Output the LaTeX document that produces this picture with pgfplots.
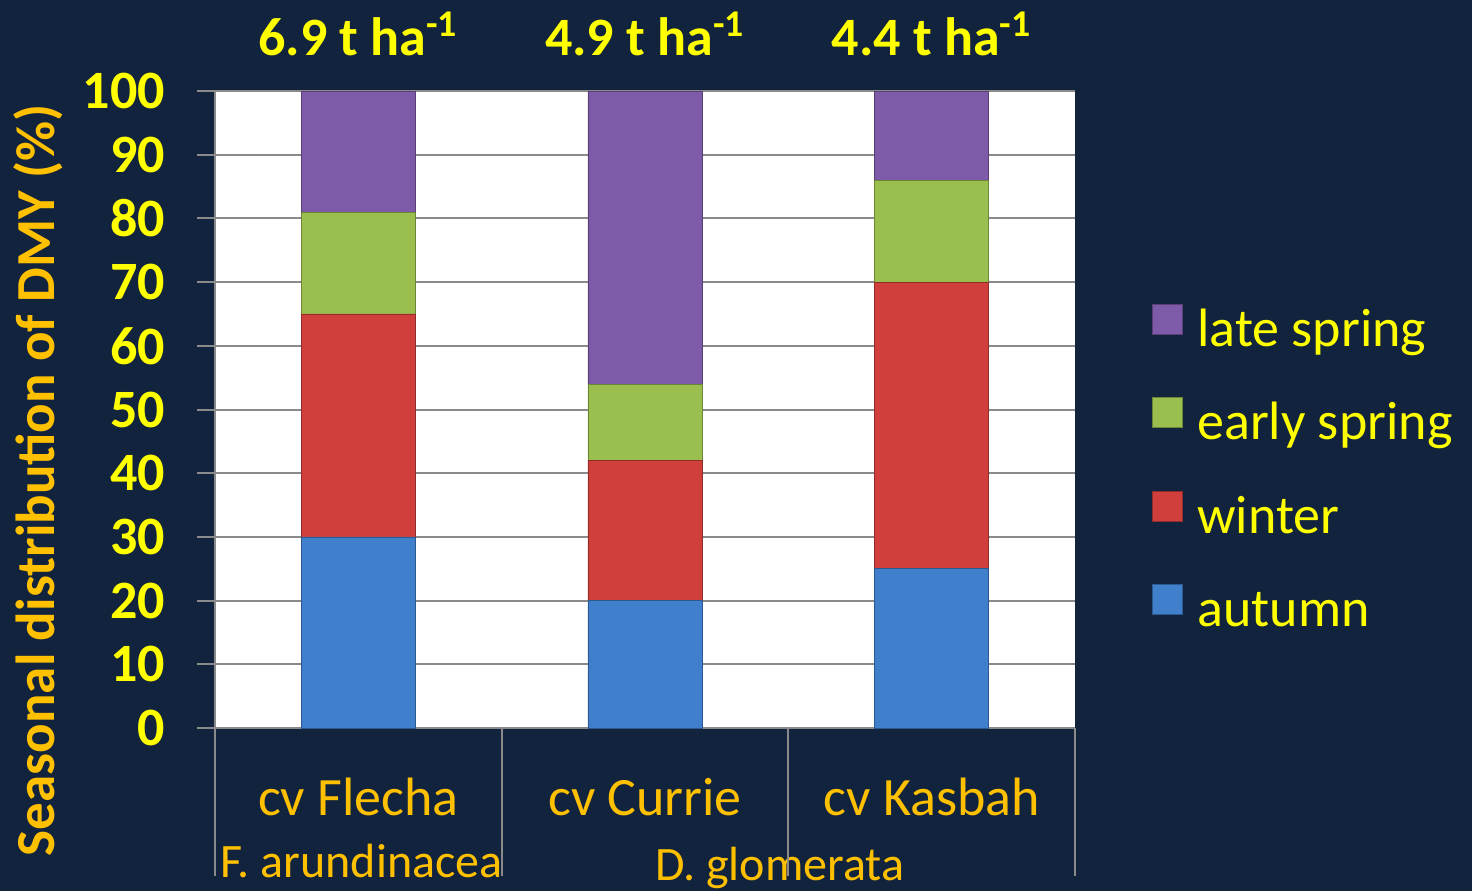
\documentclass[border=0pt]{standalone}
\usepackage{fontspec}
\setmainfont{Carlito}
\usepackage{pgfplots}
\pgfplotsset{compat=1.18}
\definecolor{bg}{HTML}{12233E}
\definecolor{ylw}{HTML}{FFFF00}
\definecolor{org}{HTML}{FFC000}
\definecolor{gridgray}{HTML}{8A8A8A}
\definecolor{cAut}{HTML}{3F7FCC}
\definecolor{cWin}{HTML}{D13F3D}
\definecolor{cEar}{HTML}{9BBF4E}
\definecolor{cLat}{HTML}{7E5BA8}
\newcommand\bigfont{\fontsize{27}{32}\selectfont}
\begin{document}
\begin{tikzpicture}
\fill[bg] (-107.5pt,-81.5pt) rectangle (628.5pt,364pt);
\begin{axis}[
  at={(0pt,0pt)}, anchor=south west,
  scale only axis, width=430pt, height=318.5pt,
  ybar stacked, bar width=57pt,
  xmin=-0.5, xmax=2.5, ymin=0, ymax=100,
  xtick={0,1,2}, xticklabels={cv Flecha,cv Currie,cv Kasbah},
  ytick={0,10,...,100},
  axis background/.style={fill=white},
  ymajorgrids, grid style={draw=gridgray, line width=1pt},
  axis x line*=bottom, axis y line*=left,
  axis line style={draw=gridgray, line width=1pt, -},
  tick align=outside, major tick length=9pt,
  x tick style={draw=none},
  y tick style={draw=gridgray, line width=1pt},
  /pgf/number format/assume math mode=true,
  yticklabel style={font=\bigfont\bfseries, text=ylw, xshift=-12.5pt},
  xticklabel style={font=\bigfont, text=org, anchor=base, yshift=-34.5pt},
  ylabel={Seasonal distribution of DMY (\%)},
  ylabel style={font=\fontsize{27.5}{32}\selectfont\bfseries, text=org, at={(axis description cs:-0.206,0.389)}, anchor=center},
  clip=false,
  legend style={at={(rel axis cs:1.0895,0.666)}, anchor=north west, draw=none, fill=none, inner sep=0pt,
    font=\bigfont, text=ylw, row sep=19.4pt, column sep=7pt,
    nodes={inner sep=0pt, text height=18pt, text depth=6pt}},
  legend cell align=left,
  reverse legend,
  legend image code/.code={\draw[#1, line width=0.5pt] (0pt,0pt) rectangle (15pt,15pt);},
]
\addplot[fill=cAut, draw=cAut!70!black] coordinates {(0,30) (1,20) (2,25)};
\addlegendentry{autumn}
\addplot[fill=cWin, draw=cWin!70!black] coordinates {(0,35) (1,22) (2,45)};
\addlegendentry{winter}
\addplot[fill=cEar, draw=cEar!70!black] coordinates {(0,16) (1,12) (2,16)};
\addlegendentry{early spring}
\addplot[fill=cLat, draw=cLat!70!black] coordinates {(0,19) (1,46) (2,14)};
\addlegendentry{late spring}

\node[anchor=base, yshift=18pt, font=\bigfont\bfseries, text=ylw] at (axis cs:0,100) {6.9 t ha\textsuperscript{-1}};
\node[anchor=base, yshift=18pt, font=\bigfont\bfseries, text=ylw] at (axis cs:1,100) {4.9 t ha\textsuperscript{-1}};
\node[anchor=base, yshift=18pt, font=\bigfont\bfseries, text=ylw] at (axis cs:2,100) {4.4 t ha\textsuperscript{-1}};

\draw[gridgray, line width=1pt] (axis cs:-0.5,0) -- ++(0pt,-74pt);
\draw[gridgray, line width=1pt] (axis cs:0.5,0) -- ++(0pt,-74pt);
\draw[gridgray, line width=1pt] (axis cs:1.5,0) -- ++(0pt,-74pt);
\draw[gridgray, line width=1pt] (axis cs:2.5,0) -- ++(0pt,-74pt);

\node[anchor=base west, inner sep=0pt, font=\fontsize{24}{28}\selectfont, text=org] at ([xshift=2.5pt,yshift=-74.5pt]axis cs:-0.5,0) {F. arundinacea};
\node[anchor=base, inner sep=0pt, font=\fontsize{24}{28}\selectfont, text=org] at ([yshift=-76pt]axis cs:1.47,0) {D. glomerata};
\end{axis}
\pgfresetboundingbox
\useasboundingbox (-107.5pt,-81.5pt) rectangle (628.5pt,364pt);
\end{tikzpicture}
\end{document}
